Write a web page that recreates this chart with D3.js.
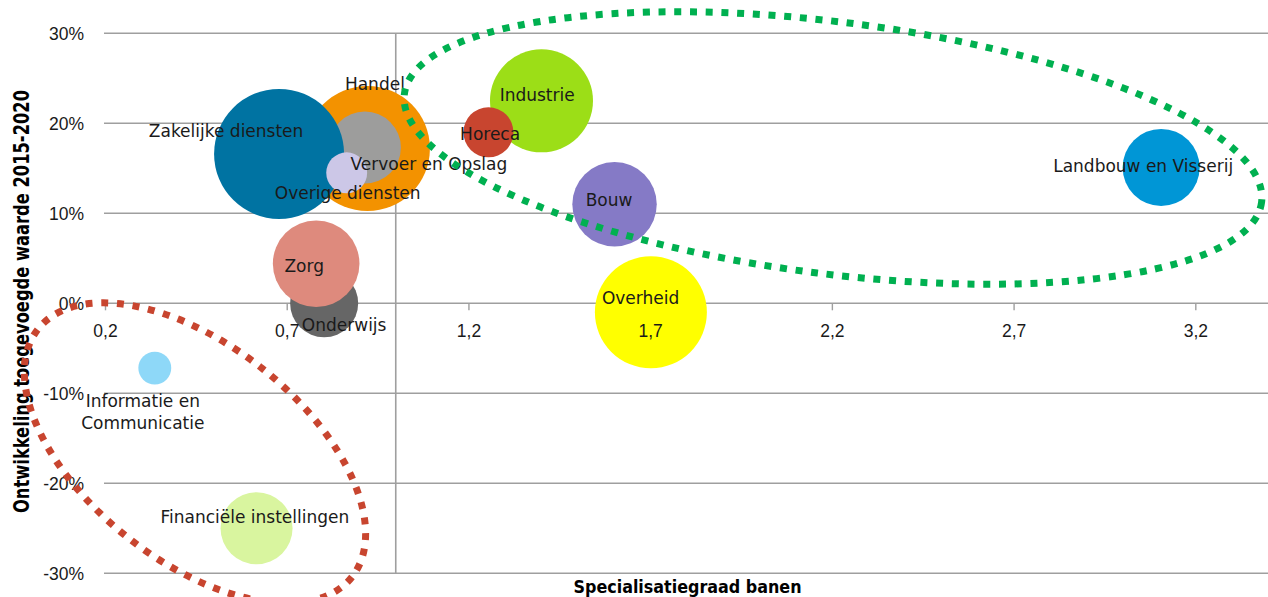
<!DOCTYPE html>
<html>
<head>
<meta charset="utf-8">
<script src="https://cdn.jsdelivr.net/npm/d3@7"></script>
<style>
  html, body { margin: 0; padding: 0; background: #fff; }
  svg { display: block; }
</style>
</head>
<body>
<svg id="chart" width="1268" height="597"></svg>
<script>
// ---- data ----
const sectors = ["Handel", "Vervoer en Opslag", "Zakelijke diensten", "Overige diensten",
  "Onderwijs", "Zorg", "Informatie en Communicatie", "Financiële instellingen",
  "Industrie", "Horeca", "Bouw", "Overheid", "Landbouw en Visserij"];
const specialisatie = [0.922, 0.915, 0.679, 0.865, 0.803, 0.781, 0.337, 0.617, 1.401, 1.255, 1.602, 1.702, 3.106];
const ontwikkeling = [17.2, 17.3, 16.6, 14.5, 0.0, 4.4, -7.2, -25.0, 22.5, 19.0, 11.0, -1.0, 15.1];
const omvang = [92.5, 30.7, 100, 9.9, 27.4, 44.4, 6.4, 30.7, 62.8, 14.8, 42.2, 74.2, 35.1];
const xTickValues = [0.2, 0.7, 1.2, 1.7, 2.2, 2.7, 3.2];
const xTickLabels = ["0,2", "0,7", "1,2", "1,7", "2,2", "2,7", "3,2"];
const yTickValues = [-30, -20, -10, 0, 10, 20, 30];
const yTickLabels = ["-30%", "-20%", "-10%", "0%", "10%", "20%", "30%"];
const xTitle = "Specialisatiegraad banen";
const yTitle = "Ontwikkeling toegevoegde waarde 2015-2020";

// ---- styles (not data) ----
const colors = ["#F39200", "#9D9D9C", "#0073A2", "#CCC7E7", "#666666", "#DE8A7D", "#8ED8F8",
  "#D9F59F", "#9CDE17", "#C8452F", "#857AC6", "#FFFF00", "#0096D6"];
// label offsets in px from bubble centre: [dx, dy(baseline)]
const labelOffsets = [[7.5, -58.5], [64, 22], [-53, -17], [1, 26.5], [20, 27.7], [-12, 8.4],
  [-12, 39], [-1.7, -5.2], [-4.3, -0.3], [1.7, 7.3], [-5.5, 1.7], [-10.3, -7.9], [-18, 4.9]];

const svg = d3.select("#chart");
const x = d3.scaleLinear().domain([0.2, 3.4]).range([105, 1268]);
const y = d3.scaleLinear().domain([-30, 30]).range([573.3, 33.3]);
const r = d3.scaleSqrt().domain([0, 100]).range([0, 65]);
const grid = "#9F9F9F";
const tickFont = "'Liberation Sans', Arial, sans-serif";

// horizontal gridlines
svg.append("g").selectAll("line").data(yTickValues).join("line")
  .attr("x1", x(0.2) - 1).attr("x2", 1268)
  .attr("y1", d => y(d)).attr("y2", d => y(d))
  .attr("stroke", grid).attr("stroke-width", 1.6);

// vertical axis at x = 1
svg.append("line")
  .attr("x1", x(1)).attr("x2", x(1))
  .attr("y1", y(30)).attr("y2", y(-30))
  .attr("stroke", grid).attr("stroke-width", 1.6);

// x axis tick marks at 0% (under the bubbles)
const xAxis = d3.axisBottom(x).tickValues(xTickValues)
  .tickFormat((d, i) => xTickLabels[i]).tickSize(7).tickSizeOuter(0).tickPadding(12);
const gxLines = svg.append("g").attr("transform", `translate(0,${y(0)})`).call(xAxis);
gxLines.select(".domain").remove();
gxLines.selectAll(".tick text").remove();
gxLines.selectAll(".tick line").attr("stroke", grid).attr("stroke-width", 1.4);

// bubbles
const idx = d3.range(sectors.length);
svg.append("g").selectAll("circle").data(idx).join("circle")
  .attr("cx", i => x(specialisatie[i]))
  .attr("cy", i => y(ontwikkeling[i]))
  .attr("r", i => r(omvang[i]))
  .attr("fill", i => colors[i]);

// x tick labels (on top of the bubbles)
const gx = svg.append("g").attr("transform", `translate(0,${y(0)})`).call(xAxis);
gx.select(".domain").remove();
gx.selectAll(".tick line").remove();
gx.selectAll(".tick text").attr("font-family", tickFont)
  .attr("font-size", 17.5).attr("fill", "#1a1a1a").attr("dy", 0).attr("y", 33.5);

// y tick labels
const yAxis = d3.axisLeft(y).tickValues(yTickValues)
  .tickFormat((d, i) => yTickLabels[i]).tickSize(0).tickPadding(0);
const gy = svg.append("g").attr("transform", `translate(84,0)`).call(yAxis);
gy.select(".domain").remove();
gy.selectAll(".tick text").attr("font-family", tickFont)
  .attr("font-size", 17.5).attr("fill", "#1a1a1a").attr("dy", "0.36em");

// labels
const lg = svg.append("g").attr("font-family", "'DejaVu Sans', sans-serif")
  .attr("font-size", 17).attr("fill", "#1a1a1a").attr("text-anchor", "middle");
idx.forEach(i => {
  const cx = x(specialisatie[i]) + labelOffsets[i][0];
  const cy = y(ontwikkeling[i]) + labelOffsets[i][1];
  const t = lg.append("text").attr("x", cx).attr("y", cy);
  if (sectors[i] === "Informatie en Communicatie") {
    t.append("tspan").attr("x", cx).text("Informatie en");
    t.append("tspan").attr("x", cx).attr("dy", 22.3).text("Communicatie");
  } else {
    t.text(sectors[i]);
  }
});

// axis titles
svg.append("text")
  .attr("x", 687.5).attr("y", 593)
  .attr("text-anchor", "middle")
  .attr("font-family", "'Liberation Sans Narrow', 'DejaVu Sans Condensed', sans-serif")
  .attr("font-weight", "bold").attr("font-size", 18).attr("fill", "#000")
  .attr("textLength", 228).attr("lengthAdjust", "spacingAndGlyphs")
  .text(xTitle);
svg.append("text")
  .attr("transform", "translate(28.5,301.5) rotate(-90)")
  .attr("text-anchor", "middle")
  .attr("font-family", "'Liberation Sans Narrow', 'DejaVu Sans Condensed', sans-serif")
  .attr("font-weight", "bold").attr("font-size", 21).attr("fill", "#000")
  .attr("textLength", 423).attr("lengthAdjust", "spacingAndGlyphs")
  .text(yTitle);

// dotted ellipses (annotation shapes)
svg.append("ellipse")
  .attr("cx", 833).attr("cy", 148).attr("rx", 432).attr("ry", 126)
  .attr("transform", "rotate(7.2 833 148)")
  .attr("fill", "none").attr("stroke", "#00B050").attr("stroke-width", 7)
  .attr("stroke-dasharray", "7 8.7");
svg.append("ellipse")
  .attr("cx", 195).attr("cy", 453).attr("rx", 200).attr("ry", 108)
  .attr("transform", "rotate(38.3 195 453)")
  .attr("fill", "none").attr("stroke", "#C8452F").attr("stroke-width", 7)
  .attr("stroke-dasharray", "7 8.7");
</script>
</body>
</html>
